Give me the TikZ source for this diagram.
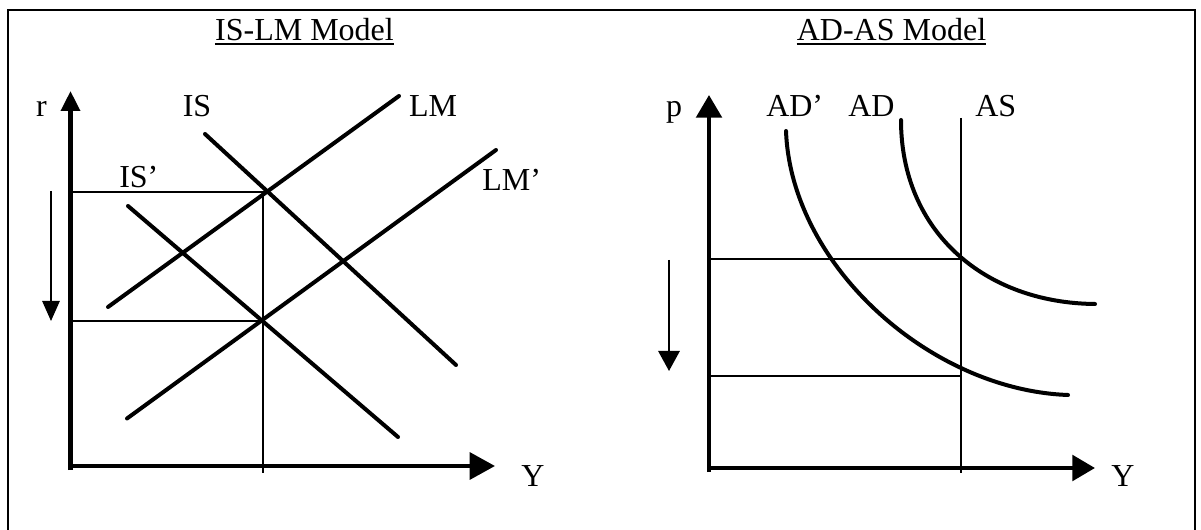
\documentclass[tikz,border=0pt]{standalone}
\usepackage{fontspec}
\setmainfont{Liberation Serif}
\usetikzlibrary{arrows.meta}
\begin{document}
\begin{tikzpicture}[x=0.75pt,y=-0.75pt,
  lbl/.style={inner sep=0pt, font=\fontsize{24}{28}\selectfont},
  frameline/.style={line width=1.5pt},
  axisline/.style={line width=3.3pt},
  curveline/.style={line width=3pt, line cap=round},
  guideline/.style={line width=1.4pt},
  asline/.style={line width=2.2pt},
  shiftarrow/.style={line width=1.4pt},
  uline/.style={line width=1.2pt}]
\useasboundingbox (0,0) rectangle (1201,530);
% frame (open at the bottom)
\draw[frameline] (7.5,531) -- (7.5,10.5) -- (1195,10.5) -- (1195,531);

% ---------------- IS-LM panel ----------------
\node[lbl, anchor=base] (t1) at (304.5,40.7) {IS-LM Model};
\draw[uline] ([yshift=-2.7pt]t1.base west) -- ([yshift=-2.7pt]t1.base east);

\coordinate (r1top) at (70.5,91);
\coordinate (y1end) at (495,466);
\draw[axisline, -{Triangle[length=15pt,width=14pt]}] (70.5,470) -- (r1top);
\draw[axisline, -{Triangle[length=19pt,width=20pt]}] (69,466) -- (y1end);

\node[lbl, anchor=base] (rlab) at (41.5,117) {r};
\node[lbl, anchor=base] (ylab1) at (533,486) {Y};

% guides
\coordinate (e1) at (265,192);
\coordinate (e2) at (262,321);
\draw[guideline] (70.5,192) -- (e1);
\draw[guideline] (70.5,321) -- (e2);
\draw[guideline] (263,192) -- (263,473);

% shift arrow
\draw[shiftarrow, -{Triangle[length=15pt,width=13pt]}] (51,191) -- (51,321);

% curves
\draw[curveline] (108,307) -- (399,96);   % LM
\draw[curveline] (127,418.5) -- (496,150);  % LM'
\draw[curveline] (205,134) -- (456,365);  % IS
\draw[curveline] (128,206) -- (398,437);  % IS'

\node[lbl, anchor=base] (islab) at (197,117) {IS};
\node[lbl, anchor=base] (lmlab) at (433,117) {LM};
\node[lbl, anchor=base west] (isplab) at (119,188) {IS’};
\node[lbl, anchor=base west] (lmplab) at (482,191) {LM’};

% ---------------- AD-AS panel ----------------
\node[lbl, anchor=base] (t2) at (891.5,40.7) {AD-AS Model};
\draw[uline] ([yshift=-2.7pt]t2.base west) -- ([yshift=-2.7pt]t2.base east);

\coordinate (p2top) at (709,95);
\coordinate (y2end) at (1095,468);
\draw[axisline, -{Triangle[length=17pt,width=19pt]}] (709,472) -- (p2top);
\draw[axisline, -{Triangle[length=17pt,width=19pt]}] (707.5,468) -- (y2end);

\node[lbl, anchor=base] (plab) at (674,117) {p};
\node[lbl, anchor=base] (ylab2) at (1123,486) {Y};

% AS
\draw[asline] (961,118) -- (961,473);
% guides
\draw[guideline] (709,259) -- (961,259);
\draw[guideline] (709,376) -- (961,376);
% shift arrow
\draw[shiftarrow, -{Triangle[length=15pt,width=16pt]}] (669,260) -- (669,371);

% AD' and AD
\draw[curveline] (786,131) .. controls (791,265) and (930,390) .. (1068,395);
\draw[curveline] (901,120) .. controls (901,232) and (985,303) .. (1095,304);

\node[lbl, anchor=base west] (adplab) at (766,117) {AD’};
\node[lbl, anchor=base west] (adlab) at (848,117) {AD};
\node[lbl, anchor=base west] (aslab) at (975,117) {AS};
\end{tikzpicture}
\end{document}
